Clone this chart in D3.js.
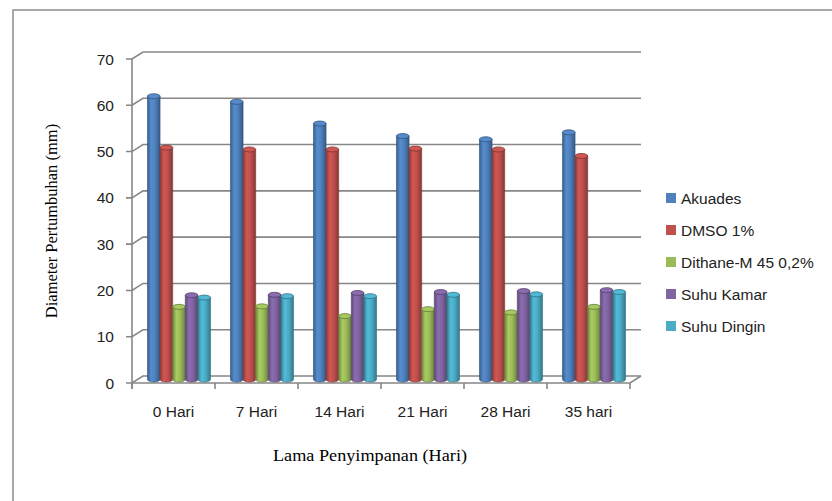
<!DOCTYPE html>
<html>
<head>
<meta charset="utf-8">
<script src="https://cdn.jsdelivr.net/npm/d3@7/dist/d3.min.js"></script>
<style>
  html, body { margin: 0; padding: 0; background: #fff; }
  svg { display: block; }
</style>
</head>
<body>
<svg id="chart" width="832" height="501"></svg>
<script>
// Storage duration categories
const categories = ["0 Hari", "7 Hari", "14 Hari", "21 Hari", "28 Hari", "35 hari"];
// Treatments (series)
const seriesNames = ["Akuades", "DMSO 1%", "Dithane-M 45 0,2%", "Suhu Kamar", "Suhu Dingin"];
const seriesColors = ["#4F81BD", "#C0504D", "#9BBB59", "#8064A2", "#4BACC6"];
// Growth diameter (mm) per treatment, one value per category
const akuades    = [61.2, 60.0, 55.3, 52.6, 51.9, 53.4];
const dmso       = [50.1, 49.7, 49.7, 49.9, 49.7, 48.3];
const dithane    = [15.7, 15.8, 13.7, 15.2, 14.5, 15.7];
const suhuKamar  = [18.2, 18.3, 18.7, 18.9, 19.1, 19.3];
const suhuDingin = [17.7, 18.0, 18.0, 18.3, 18.4, 18.9];
const seriesValues = [akuades, dmso, dithane, suhuKamar, suhuDingin];
const yTicks = [0, 10, 20, 30, 40, 50, 60, 70];

const svg = d3.select("#chart");
const defs = svg.append("defs");

// Plot frame (front plane) and 3D depth offset
const plotLeft = 132, plotRight = 630, plotBottom = 383, plotTop = 59;
const depthX = 11, depthY = 7;
const gridColor = "#878787";

const y = d3.scaleLinear().domain([0, 70]).range([plotBottom, plotTop]);
const x0 = d3.scaleBand().domain(categories).range([plotLeft, plotRight])
  .paddingInner(0.24).paddingOuter(0.12);
const x1 = d3.scaleBand().domain(seriesNames).range([0, x0.bandwidth()]);

// Outer chart border
svg.append("path")
  .attr("d", "M13,505 L13,10 L836,10")
  .attr("fill", "none").attr("stroke", "#8c8c8c").attr("stroke-width", 1.5);

// Back-wall gridlines with side-wall diagonals
const grid = svg.append("g").attr("fill", "none").attr("stroke", gridColor).attr("stroke-width", 1.6);
yTicks.forEach(v => {
  const yf = y(v), yb = y(v) - depthY;
  grid.append("path").attr("d",
    `M${plotLeft - 6},${yf} L${plotLeft},${yf} L${plotLeft + depthX},${yb} L${plotRight + depthX},${yb}`);
});
// Floor edges and axes
grid.append("path").attr("d", `M${plotLeft},${y(70)} L${plotLeft},${plotBottom + 6}`);
grid.append("path").attr("d", `M${plotLeft},${plotBottom} L${plotRight},${plotBottom} L${plotRight + depthX},${plotBottom - depthY}`);
categories.forEach((c, i) => {
  const xx = plotLeft + i * x0.step();
  grid.append("line").attr("x1", xx).attr("x2", xx).attr("y1", plotBottom).attr("y2", plotBottom + 6);
});
grid.append("line").attr("x1", plotRight).attr("x2", plotRight).attr("y1", plotBottom).attr("y2", plotBottom + 6);

// Y tick labels
svg.append("g").selectAll("text").data(yTicks).join("text")
  .attr("x", 114).attr("y", d => y(d))
  .attr("text-anchor", "end").attr("dominant-baseline", "central")
  .attr("font-family", "Liberation Sans, Arial, sans-serif").attr("font-size", 15.5)
  .attr("fill", "#222").text(d => d);

// Category labels
svg.append("g").selectAll("text").data(categories).join("text")
  .attr("x", d => x0(d) + x0.bandwidth() / 2).attr("y", 411)
  .attr("text-anchor", "middle").attr("dominant-baseline", "central")
  .attr("font-family", "Liberation Sans, Arial, sans-serif").attr("font-size", 15.5)
  .attr("fill", "#222").text(d => d);

// Axis titles
svg.append("text")
  .attr("transform", "translate(57,221) rotate(-90)")
  .attr("text-anchor", "middle")
  .attr("font-family", "Liberation Serif, Times New Roman, serif").attr("font-size", 16.5)
  .attr("fill", "#000").text("Diameter Pertumbuhan (mm)");
svg.append("text")
  .attr("x", 273).attr("y", 461)
  .attr("textLength", 194).attr("lengthAdjust", "spacingAndGlyphs")
  .attr("font-family", "Liberation Serif, Times New Roman, serif").attr("font-size", 16.5)
  .attr("fill", "#000").text("Lama Penyimpanan (Hari)");

// Cylinder shading gradients
seriesColors.forEach((col, i) => {
  const c = d3.color(col);
  const g = defs.append("linearGradient").attr("id", "cyl" + i)
    .attr("x1", "0%").attr("x2", "100%").attr("y1", "0%").attr("y2", "0%");
  g.append("stop").attr("offset", "0%").attr("stop-color", c.darker(0.9));
  g.append("stop").attr("offset", "30%").attr("stop-color", c.brighter(0.25));
  g.append("stop").attr("offset", "60%").attr("stop-color", c);
  g.append("stop").attr("offset", "100%").attr("stop-color", c.darker(1.0));
});

// Bars drawn as cylinders at mid-depth of the floor
const midX = depthX / 2, midY = depthY / 2;
const ry = 2.5;
const bars = svg.append("g");
categories.forEach((cat, ci) => {
  seriesNames.forEach((s, si) => {
    const v = seriesValues[si][ci];
    const bx = x0(cat) + x1(s) + midX;
    const bw = x1.bandwidth();
    const yTop = y(v) - midY, yBot = y(0) - midY;
    const c = d3.color(seriesColors[si]);
    const gEl = bars.append("g");
    gEl.append("path")
      .attr("d", `M${bx},${yTop} L${bx},${yBot} A${bw / 2},${ry} 0 0 0 ${bx + bw},${yBot} L${bx + bw},${yTop} Z`)
      .attr("fill", `url(#cyl${si})`)
      .attr("stroke", c.darker(1.2)).attr("stroke-width", 0.6);
    gEl.append("ellipse")
      .attr("cx", bx + bw / 2).attr("cy", yTop).attr("rx", bw / 2).attr("ry", ry)
      .attr("fill", c.brighter(0.2)).attr("stroke", c.darker(1.2)).attr("stroke-width", 0.8);
  });
});

// Legend
const legend = svg.append("g");
seriesNames.forEach((s, i) => {
  const ly = 198 + i * 32;
  legend.append("rect").attr("x", 666).attr("y", ly - 5).attr("width", 10).attr("height", 10)
    .attr("fill", seriesColors[i]);
  legend.append("text").attr("x", 681).attr("y", ly)
    .attr("dominant-baseline", "central")
    .attr("font-family", "Liberation Sans, Arial, sans-serif").attr("font-size", 15.5)
    .attr("fill", "#222").text(s);
});
</script>
</body>
</html>
